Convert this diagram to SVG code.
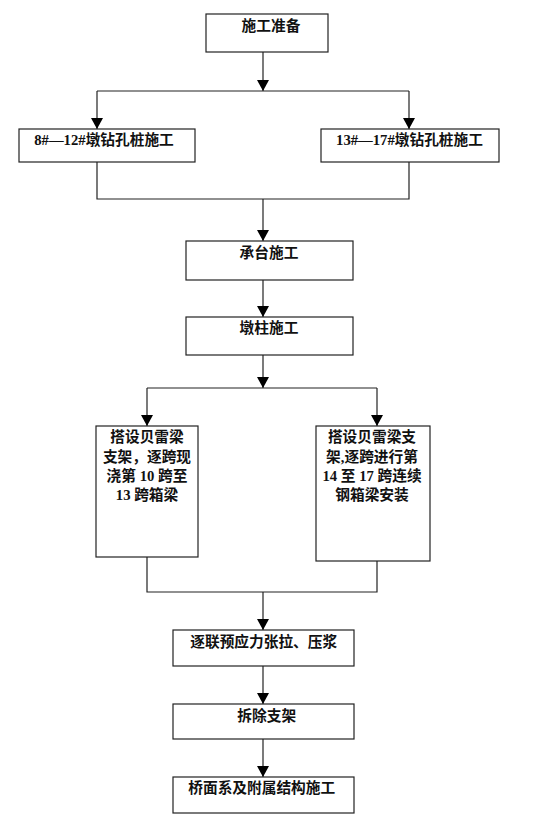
<svg xmlns="http://www.w3.org/2000/svg" width="540" height="820" viewBox="0 0 540 820">
<style>
.box{fill:#fff;stroke:#222;stroke-width:1.2}
.t{font-family:"Liberation Serif","Noto Sans CJK SC",serif;font-size:14.7px;font-weight:bold;fill:#111;text-anchor:middle}
.c{fill:none;stroke:#222;stroke-width:1.2}
.ah{fill:#000}
</style>
<rect width="540" height="820" fill="#fff"/>
<g id="connectors">
<path class="c" d="M263,52 V91"/>
<path class="ah" d="M257,80 L269,80 L263,91 Z"/>
<path class="c" d="M97,91 H409"/>
<path class="c" d="M97,91 V129"/>
<path class="ah" d="M91,118 L103,118 L97,129 Z"/>
<path class="c" d="M409,91 V129"/>
<path class="ah" d="M403,118 L415,118 L409,129 Z"/>
<path class="c" d="M97,162 V199 H409 V162"/>
<path class="c" d="M263,199 V241"/>
<path class="ah" d="M257,230 L269,230 L263,241 Z"/>
<path class="c" d="M263,280 V317"/>
<path class="ah" d="M257,306 L269,306 L263,317 Z"/>
<path class="c" d="M263,355 V388"/>
<path class="ah" d="M257,377 L269,377 L263,388 Z"/>
<path class="c" d="M147,388 H377"/>
<path class="c" d="M147,388 V426"/>
<path class="ah" d="M141,415 L153,415 L147,426 Z"/>
<path class="c" d="M377,388 V426"/>
<path class="ah" d="M371,415 L383,415 L377,426 Z"/>
<path class="c" d="M147,557 V592 H377 V561"/>
<path class="c" d="M263,592 V630"/>
<path class="ah" d="M257,619 L269,619 L263,630 Z"/>
<path class="c" d="M263,666 V704"/>
<path class="ah" d="M257,693 L269,693 L263,704 Z"/>
<path class="c" d="M263,739 V777"/>
<path class="ah" d="M257,766 L269,766 L263,777 Z"/>
</g>
<g id="n1"><rect class="box" x="206" y="14" width="122" height="38"/><text class="t" x="271" y="31">施工准备</text></g>
<g id="n2"><rect class="box" x="19" y="129" width="176" height="33"/><text class="t" x="104" y="145">8#—12#墩钻孔桩施工</text></g>
<g id="n3"><rect class="box" x="321" y="129" width="178" height="33"/><text class="t" x="409.5" y="145">13#—17#墩钻孔桩施工</text></g>
<g id="n4"><rect class="box" x="186" y="241" width="167" height="39"/><text class="t" x="269" y="258">承台施工</text></g>
<g id="n5"><rect class="box" x="186" y="317" width="167" height="38"/><text class="t" x="269" y="333">墩柱施工</text></g>
<g id="n6"><rect class="box" x="96" y="426" width="102" height="131"/>
<text class="t" x="147" y="442">搭设贝雷梁</text>
<text class="t" x="147" y="461.5">支架，逐跨现</text>
<text class="t" x="147" y="481">浇第 10 跨至</text>
<text class="t" x="147" y="500">13 跨箱梁</text></g>
<g id="n7"><rect class="box" x="316" y="426" width="114" height="135"/>
<text class="t" x="372" y="442">搭设贝雷梁支</text>
<text class="t" x="372" y="461.5">架,逐跨进行第</text>
<text class="t" x="372" y="481">14 至 17 跨连续</text>
<text class="t" x="372" y="500">钢箱梁安装</text></g>
<g id="n8"><rect class="box" x="173" y="630" width="181" height="36"/><text class="t" x="263.7" y="647">逐联预应力张拉、压浆</text></g>
<g id="n9"><rect class="box" x="173" y="704" width="181" height="35"/><text class="t" x="266.7" y="721">拆除支架</text></g>
<g id="n10"><rect class="box" x="173" y="777" width="181" height="36"/><text class="t" x="261.7" y="793">桥面系及附属结构施工</text></g>
</svg>
